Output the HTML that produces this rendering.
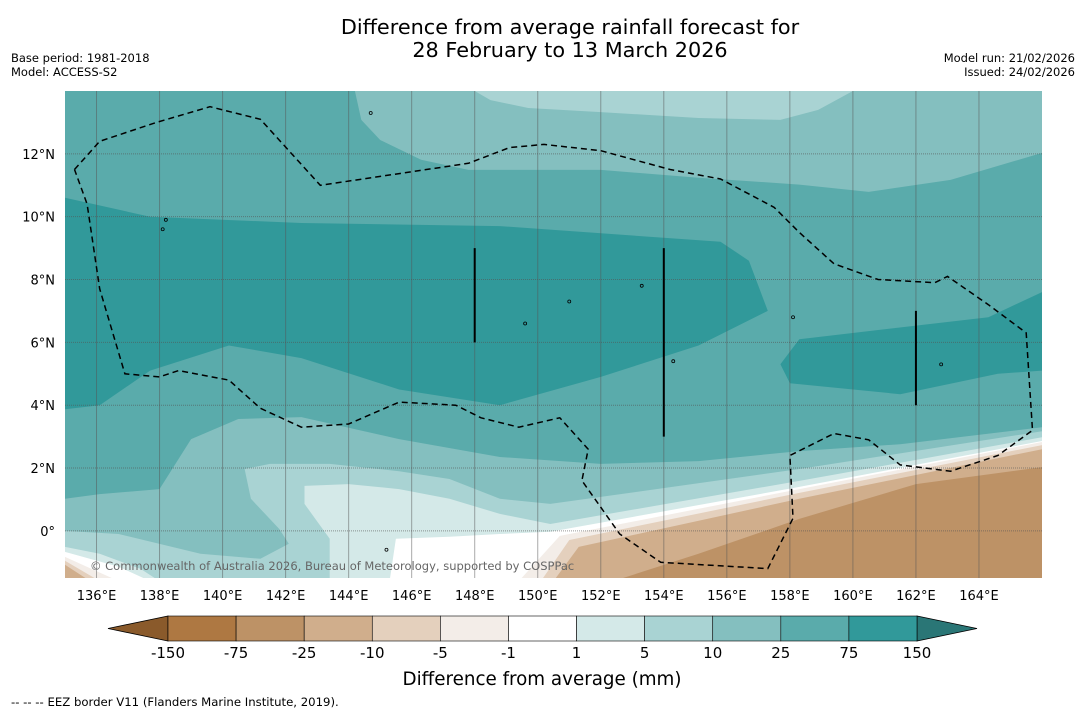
<!DOCTYPE html>
<html><head><meta charset="utf-8"><style>
body{margin:0;background:#fff;width:1085px;height:713px;overflow:hidden;font-family:"Liberation Sans",sans-serif}
svg{display:block}
</style></head><body>
<svg id="chart" width="1085" height="713" xmlns="http://www.w3.org/2000/svg" font-family="DejaVu Sans, Liberation Sans, sans-serif">
<text x="570" y="34" text-anchor="middle" font-size="20.8">Difference from average rainfall forecast for</text>
<text x="570" y="57" text-anchor="middle" font-size="20.8">28 February to 13 March 2026</text>
<text x="11" y="62" font-size="11.5">Base period: 1981-2018</text>
<text x="11" y="76" font-size="11.5">Model: ACCESS-S2</text>
<text x="1075" y="62" font-size="11.5" text-anchor="end">Model run: 21/02/2026</text>
<text x="1075" y="76" font-size="11.5" text-anchor="end">Issued: 24/02/2026</text>
<defs><clipPath id="mapclip"><rect x="65" y="91" width="977" height="487"/></clipPath></defs>
<g id="map" clip-path="url(#mapclip)"></g>
<g id="axes"></g>
<g id="cbar"></g>
<text x="542" y="685" text-anchor="middle" font-size="18.3">Difference from average (mm)</text>
<text x="11" y="706" font-size="11.7">--  --  -- EEZ border V11 (Flanders Marine Institute, 2019).</text>
</svg>
<script>
const lonMin=135, lonMax=166, latMin=-1.5, latMax=14;
const lonTicks=[136,138,140,142,144,146,148,150,152,154,156,158,160,162,164];
const latTicks=[0,2,4,6,8,10,12];
const cbLabels=['-150','-75','-25','-10','-5','-1','1','5','10','25','75','150'];
const cbColors=['#ae7842','#bd9266','#d0ae8c','#e4d0bd','#f3ede8','#ffffff','#d4e9e8','#a9d3d3','#84bfbf','#5aabab','#31999a'];
const cbLowColor='#8a5a2b', cbHighColor='#2a7676';
// contour regions (lon, lat)
const topLight=[[144.2,14],[144.4,13.08],[145.0,12.44],[146.3,11.81],[147.8,11.49],[152.0,11.49],[155.1,11.24],[158.3,11.02],[160.5,10.79],[163.1,11.17],[166,12.03],[166,14]];
const topBubble=[[148.0,14],[148.5,13.71],[149.7,13.46],[152.0,13.33],[155.1,13.14],[157.7,13.08],[158.9,13.4],[160.0,14]];
const darkBand1=[[135,10.6],[137.7,10.0],[142.5,9.8],[148.8,9.7],[155.8,9.2],[156.7,8.6],[157.3,7.0],[155.1,5.9],[152.0,4.9],[148.8,4.0],[145.6,4.5],[142.5,5.5],[140.2,5.9],[137.7,5.1],[136.1,4.0],[135,3.87]];
const darkBand2=[[166,7.6],[164.3,6.8],[158.3,6.1],[157.7,5.3],[158.0,4.7],[161.5,4.35],[164.6,5.0],[166,5.1]];
const b10=[[135,1.02],[136.1,1.17],[138.0,1.33],[139.0,2.92],[140.5,3.56],[142.5,3.62],[145.6,2.92],[148.8,2.35],[152.0,2.13],[155.1,2.22],[158.3,2.54],[161.5,2.76],[166,3.3]];
const b5=[[135,0.0],[136.7,-0.1],[139.3,-0.73],[141.2,-0.89],[142.1,-0.41],[141.8,0.06],[140.9,1.02],[140.7,1.97],[141.5,2.13],[143.4,2.13],[145.6,1.9],[147.2,1.65],[148.8,1.02],[150.4,0.86],[152.0,1.08],[158.3,1.97],[166,3.17]];
const b1=[[135,-0.51],[136.1,-0.73],[137.4,-1.21],[138.0,-1.6],[143.4,-1.6],[143.4,-0.25],[142.6,0.86],[142.6,1.43],[144.0,1.49],[145.6,1.33],[147.2,1.02],[148.8,0.54],[150.4,0.22],[158.3,1.59],[166,2.98]];
const bWhite=[[135,-0.67],[136.7,-1.14],[137.7,-1.6],[145.3,-1.6],[145.5,-0.25],[147.2,-0.19],[148.8,-0.1],[150.4,-0.03],[158.3,1.4],[166,2.86]];
const bm1=[[135,-0.83],[136.7,-1.6],[149.4,-1.6],[150.7,-0.16],[158.3,1.33],[166,2.83]];
const bm5=[[135,-0.95],[136.1,-1.6],[150.1,-1.6],[151.0,-0.29],[158.3,1.21],[166,2.73]];
const bm10=[[135,-1.08],[135.8,-1.6],[150.5,-1.6],[151.3,-0.51],[158.3,1.02],[166,2.6]];
const bm25=[[152.4,-1.6],[155.1,-0.73],[158.3,0.38],[162.0,1.49],[166,2.03]];
const eez=[[135.3,11.5],[136.1,12.4],[137.9,13.0],[139.6,13.5],[141.2,13.1],[143.1,11.0],[147.8,11.7],[149.1,12.2],[150.2,12.3],[152.0,12.1],[154.2,11.5],[155.8,11.2],[157.5,10.3],[158.3,9.5],[159.4,8.5],[160.8,8.0],[162.6,7.9],[163.0,8.1],[164.3,7.2],[165.5,6.3],[165.7,3.2],[164.6,2.4],[163.1,1.9],[161.5,2.1],[160.5,2.9],[159.4,3.1],[158.0,2.4],[158.1,0.4],[157.3,-1.2],[153.9,-1.0],[152.6,-0.1],[151.4,1.6],[151.6,2.6],[150.7,3.6],[149.4,3.3],[148.2,3.6],[147.4,4.0],[145.6,4.1],[144.0,3.4],[142.5,3.3],[141.2,3.9],[140.2,4.8],[138.6,5.1],[138.0,4.9],[136.9,5.0],[136.1,7.7],[135.7,10.4],[135.3,11.5]];
const blackLines=[[148,9,6],[154,9,3],[162,7,4]];
const islands=[[138.1,9.6],[144.7,13.3],[154.3,5.4],[158.1,6.8],[162.8,5.3],[153.3,7.8],[151.0,7.3],[149.6,6.6],[145.2,-0.6],[138.2,9.9]];

const X=lon=>65+(lon-lonMin)/(lonMax-lonMin)*977;
const Y=lat=>91+(latMax-lat)/(latMax-latMin)*487;
const NS='http://www.w3.org/2000/svg';
function mk(tag,parent){const e=document.createElementNS(NS,tag);parent.appendChild(e);return e;}
const map=document.getElementById('map');
function poly(pts,fill,name){const p=mk('polygon',map);p.setAttribute('points',pts.map(d=>X(d[0]).toFixed(1)+','+Y(d[1]).toFixed(1)).join(' '));p.setAttribute('fill',fill);

return p;}
function below(b){return b.concat([[lonMax+1,b[b.length-1][1]],[lonMax+1,latMin-1],[lonMin-1,latMin-1],[lonMin-1,b[0][1]]]);}
const bg=mk('rect',map);bg.setAttribute('x',65);bg.setAttribute('y',91);bg.setAttribute('width',977);bg.setAttribute('height',487);bg.setAttribute('fill',cbColors[9]);


poly(topLight,cbColors[8],'contour-top-10-25');
poly(topBubble,cbColors[7],'contour-top-5-10');
poly(darkBand1,cbColors[10],'contour-75-150-west');
poly(darkBand2,cbColors[10],'contour-75-150-east');
poly(below(b10),cbColors[8],'contour-south-10-25');
poly(below(b5),cbColors[7],'contour-south-5-10');
poly(below(b1),cbColors[6],'contour-south-1-5');
poly(below(bWhite),cbColors[5],'contour-near-zero');
poly(below(bm1),cbColors[4],'contour-minus-1-5');
poly(below(bm5),cbColors[3],'contour-minus-5-10');
poly(below(bm10),cbColors[2],'contour-minus-10-25');
poly(below(bm25),cbColors[1],'contour-minus-25-75');
// gridlines
lonTicks.forEach(l=>{const ln=mk('line',map);ln.setAttribute('x1',X(l));ln.setAttribute('x2',X(l));ln.setAttribute('y1',91);ln.setAttribute('y2',578);ln.setAttribute('stroke','#555');ln.setAttribute('stroke-opacity','0.5');ln.setAttribute('stroke-width','1');

});
latTicks.forEach(l=>{const ln=mk('line',map);ln.setAttribute('x1',65);ln.setAttribute('x2',1042);ln.setAttribute('y1',Y(l));ln.setAttribute('y2',Y(l));ln.setAttribute('stroke','#555');ln.setAttribute('stroke-opacity','0.6');ln.setAttribute('stroke-dasharray','1,1');

});
// eez
const ez=mk('polyline',map);ez.setAttribute('points',eez.map(d=>X(d[0]).toFixed(1)+','+Y(d[1]).toFixed(1)).join(' '));ez.setAttribute('fill','none');ez.setAttribute('stroke','#000');ez.setAttribute('stroke-width','1.5');ez.setAttribute('stroke-dasharray','6,4');


blackLines.forEach(b=>{const ln=mk('line',map);ln.setAttribute('x1',X(b[0]));ln.setAttribute('x2',X(b[0]));ln.setAttribute('y1',Y(b[1]));ln.setAttribute('y2',Y(b[2]));ln.setAttribute('stroke','#000');ln.setAttribute('stroke-width','2');

});
islands.forEach(d=>{const c=mk('circle',map);c.setAttribute('cx',X(d[0]));c.setAttribute('cy',Y(d[1]));c.setAttribute('r','1.5');c.setAttribute('fill','none');c.setAttribute('stroke','#000');c.setAttribute('stroke-width','0.8');

});
const cp=mk('text',map);cp.textContent='© Commonwealth of Australia 2026, Bureau of Meteorology, supported by COSPPac';cp.setAttribute('x',90);cp.setAttribute('y',570);cp.setAttribute('font-size','11.5');cp.setAttribute('fill','#666');


// axis labels
const axes=document.getElementById('axes');
lonTicks.forEach(l=>{const t=mk('text',axes);t.textContent=l+'°E';t.setAttribute('x',X(l));t.setAttribute('y',600);t.setAttribute('text-anchor','middle');t.setAttribute('font-size','13');

});
latTicks.forEach(l=>{const t=mk('text',axes);t.textContent=l===0?'0°':l+'°N';t.setAttribute('x',55);t.setAttribute('y',Y(l)+5);t.setAttribute('text-anchor','end');t.setAttribute('font-size','13');

});
// colorbar
const cb=document.getElementById('cbar');
const cx0=168,cx1=917,cy0=616,cy1=641,bw=(cx1-cx0)/cbColors.length;
const lt=mk('polygon',cb);lt.setAttribute('points',`108,${(cy0+cy1)/2} ${cx0},${cy0} ${cx0},${cy1}`);lt.setAttribute('fill',cbLowColor);lt.setAttribute('stroke','#000');lt.setAttribute('stroke-width','0.8');


const rt=mk('polygon',cb);rt.setAttribute('points',`977,${(cy0+cy1)/2} ${cx1},${cy0} ${cx1},${cy1}`);rt.setAttribute('fill',cbHighColor);rt.setAttribute('stroke','#000');rt.setAttribute('stroke-width','0.8');


cbColors.forEach((c,i)=>{const r=mk('rect',cb);r.setAttribute('x',cx0+i*bw);r.setAttribute('y',cy0);r.setAttribute('width',bw);r.setAttribute('height',cy1-cy0);r.setAttribute('fill',c);r.setAttribute('stroke','#000');r.setAttribute('stroke-width','0.6');

});
cbLabels.forEach((s,i)=>{const t=mk('text',cb);t.textContent=s;t.setAttribute('x',cx0+i*bw);t.setAttribute('y',658);t.setAttribute('text-anchor','middle');t.setAttribute('font-size','15');

});
</script>
</body></html>
